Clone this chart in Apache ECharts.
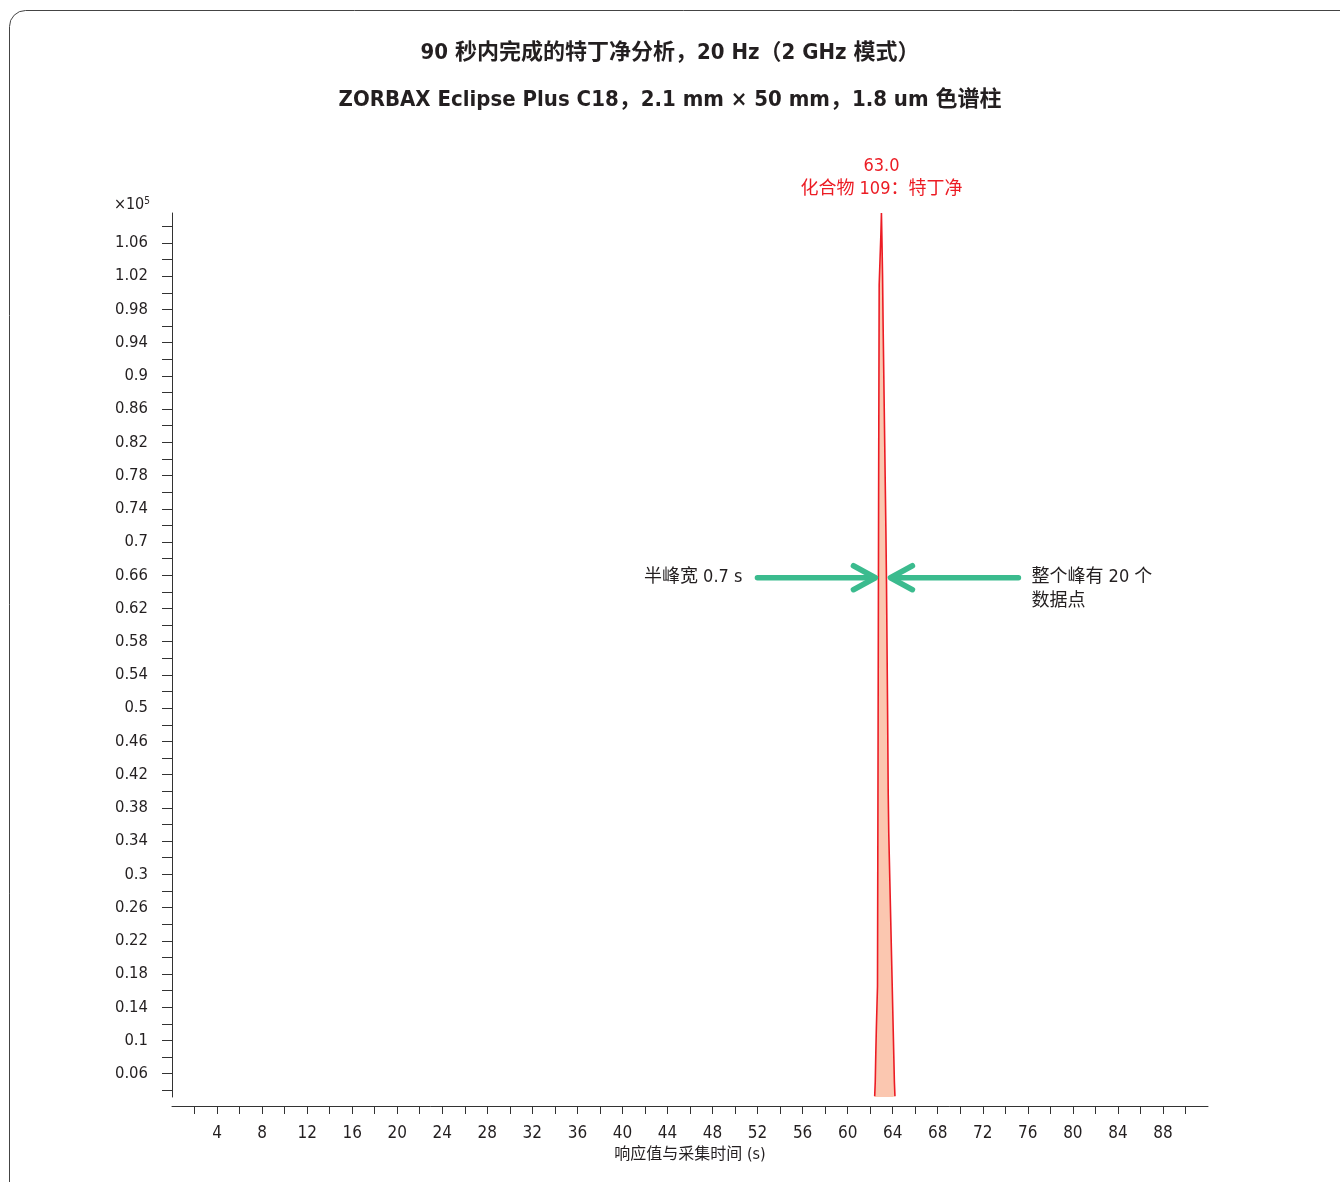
<!DOCTYPE html>
<html>
<head>
<meta charset="utf-8">
<script src="https://cdn.jsdelivr.net/npm/echarts@6/dist/echarts.min.js"></script>
<style>
  html, body { margin: 0; padding: 0; background: #ffffff; }
  #chart { width: 1340px; height: 1182px; }
</style>
</head>
<body>
<div id="chart"></div>
<script>
// Terbutryn peak, 20 Hz acquisition (one point every 0.05 s); response in units of 1e5
const peakTimes = [
  62.40, 62.45, 62.50, 62.55, 62.60, 62.65, 62.70, 62.75, 62.80, 62.85,
  62.90, 62.95, 63.00, 63.05, 63.10, 63.15, 63.20, 63.25, 63.30, 63.35,
  63.40, 63.45, 63.50, 63.55, 63.60, 63.65, 63.70, 63.75, 63.80, 63.85,
  63.90, 63.95, 64.00, 64.05, 64.10, 64.15, 64.20
];
const peakValues = [
  0.033, 0.050, 0.085, 0.115, 0.140, 0.165, 0.450, 0.760, 1.010, 1.030,
  1.050, 1.070, 1.096, 1.060, 1.020, 0.960, 0.910, 0.860, 0.810, 0.760,
  0.710, 0.650, 0.570, 0.490, 0.400, 0.350, 0.320, 0.290, 0.260, 0.230,
  0.200, 0.170, 0.140, 0.110, 0.080, 0.050, 0.033
];

// Axis label positions
const xLabelValues = [4, 8, 12, 16, 20, 24, 28, 32, 36, 40, 44, 48, 52, 56, 60, 64, 68, 72, 76, 80, 84, 88];
const yLabelValues = [0.06, 0.1, 0.14, 0.18, 0.22, 0.26, 0.3, 0.34, 0.38, 0.42, 0.46, 0.5, 0.54,
  0.58, 0.62, 0.66, 0.7, 0.74, 0.78, 0.82, 0.86, 0.9, 0.94, 0.98, 1.02, 1.06];

// Minor ticks: every 2 s on x, every 0.02 on y
const xTickValues = [];
for (let t = 2; t <= 90; t += 2) xTickValues.push(t);
const yTickValues = [];
for (let k = 2; k <= 54; k++) yTickValues.push(+(k * 0.02).toFixed(2));

const compoundName = '化合物 109：特丁净';
const halfWidthText = '半峰宽 0.7 s';
const pointsText = '整个峰有 20 个\n数据点';
const arrowLevel = 0.657;

const FONT = "'Liberation Sans Narrow','DejaVu Sans Condensed','Noto Sans CJK SC',sans-serif";
const INK = '#231f20';
const RED = '#ec1c24';
const FILL = '#fbc7b0';
const GREEN = '#3bbb8e';

const apexIdx = peakValues.indexOf(Math.max(...peakValues));

const chart = echarts.init(document.getElementById('chart'), null, { renderer: 'canvas' });

const frame = {
  type: 'rect',
  shape: { x: 9.5, y: 10.5, width: 1400, height: 1300, r: 16 },
  style: { fill: 'none', stroke: '#444', lineWidth: 1 },
  silent: true,
  z: -1
};

chart.setOption({
  backgroundColor: '#ffffff',
  animation: false,
  textStyle: { fontFamily: FONT },
  title: {
    text: '90 秒内完成的特丁净分析，20 Hz（2 GHz 模式）\nZORBAX Eclipse Plus C18，2.1 mm × 50 mm，1.8 um 色谱柱',
    left: 'center',
    top: 25,
    textStyle: { fontFamily: FONT, fontSize: 22, fontWeight: 'bold', color: INK, lineHeight: 47 }
  },
  grid: { left: 172, right: 132, top: 213, bottom: 85 },
  xAxis: {
    type: 'value',
    min: 0,
    max: 92,
    offset: 9,
    name: '响应值与采集时间 (s)',
    nameLocation: 'middle',
    nameGap: 39,
    nameTextStyle: { fontFamily: FONT, fontSize: 16, color: INK },
    axisLine: { show: true, lineStyle: { color: '#333', width: 1 } },
    axisTick: { show: true, inside: false, length: 8, customValues: xTickValues, lineStyle: { color: '#333' } },
    axisLabel: { customValues: xLabelValues, margin: 19, fontSize: 17, color: INK, fontFamily: FONT },
    splitLine: { show: false }
  },
  yAxis: {
    type: 'value',
    min: 0.032,
    max: 1.096,
    offset: 2,
    name: '×10{sup|5}',
    nameLocation: 'end',
    nameGap: -1,
    nameTextStyle: {
      fontFamily: FONT, fontSize: 16, color: INK, align: 'right', padding: [0, 22, 0, 0],
      rich: { sup: { fontSize: 10, verticalAlign: 'top', padding: [0, 0, 8, 0], fontFamily: FONT, color: INK } }
    },
    axisLine: { show: true, lineStyle: { color: '#333', width: 1 } },
    axisTick: { show: true, inside: false, length: 10, customValues: yTickValues, lineStyle: { color: '#333' } },
    axisLabel: {
      customValues: yLabelValues, margin: 22, fontSize: 16.5, color: INK, fontFamily: FONT,
      formatter: v => String(+v.toFixed(2))
    },
    splitLine: { show: false }
  },
  series: [{
    type: 'line',
    data: peakTimes.map((t, i) => [t, peakValues[i]]),
    showSymbol: false,
    symbol: 'none',
    lineStyle: { color: RED, width: 1.6 },
    areaStyle: { color: FILL, opacity: 1 },
    markPoint: {
      symbol: 'circle',
      symbolSize: 0,
      data: [{ coord: [peakTimes[apexIdx], peakValues[apexIdx]] }],
      label: {
        show: true,
        position: 'top',
        distance: 12,
        formatter: () => peakTimes[apexIdx].toFixed(1) + '\n' + compoundName,
        color: RED,
        fontFamily: FONT,
        fontSize: 18,
        lineHeight: 23,
        align: 'center'
      }
    }
  }],
  graphic: [frame]
});

// Find where the peak crosses a given response level, on its rising and falling sides
function crossing(level) {
  let left = null, right = null;
  for (let i = 1; i < peakValues.length; i++) {
    const a = peakValues[i - 1], b = peakValues[i];
    if (left === null && a < level && b >= level) {
      left = peakTimes[i - 1] + (level - a) / (b - a) * (peakTimes[i] - peakTimes[i - 1]);
    }
    if (a >= level && b < level) {
      right = peakTimes[i - 1] + (a - level) / (a - b) * (peakTimes[i] - peakTimes[i - 1]);
    }
  }
  return [left, right];
}

const [tL, tR] = crossing(arrowLevel);
const pL = chart.convertToPixel({ gridIndex: 0 }, [tL, arrowLevel]);
const pR = chart.convertToPixel({ gridIndex: 0 }, [tR, arrowLevel]);
const ay = pL[1];
const tipL = pL[0] - 3;
const tipR = pR[0] + 4;
const arm = 22, spread = 12;
const arrowStyle = { stroke: GREEN, lineWidth: 5.5, lineCap: 'round', lineJoin: 'round', fill: 'none' };

chart.setOption({
  graphic: [
    frame,
    { type: 'line', shape: { x1: tipL - 118, y1: ay, x2: tipL - 2, y2: ay }, style: arrowStyle, z: 10 },
    { type: 'polyline', shape: { points: [[tipL - arm, ay - spread], [tipL, ay], [tipL - arm, ay + spread]] }, style: arrowStyle, z: 10 },
    { type: 'line', shape: { x1: tipR + 2, y1: ay, x2: tipR + 128, y2: ay }, style: arrowStyle, z: 10 },
    { type: 'polyline', shape: { points: [[tipR + arm, ay - spread], [tipR, ay], [tipR + arm, ay + spread]] }, style: arrowStyle, z: 10 },
    {
      type: 'text', x: tipL - 133, y: ay,
      style: { text: halfWidthText, fill: INK, font: '18px ' + FONT, textAlign: 'right', textVerticalAlign: 'middle' },
      z: 10
    },
    {
      type: 'text', x: tipR + 141, y: ay - 12,
      style: { text: pointsText, fill: INK, font: '18px ' + FONT, textAlign: 'left', textVerticalAlign: 'top', lineHeight: 24 },
      z: 10
    }
  ]
});
</script>
</body>
</html>
